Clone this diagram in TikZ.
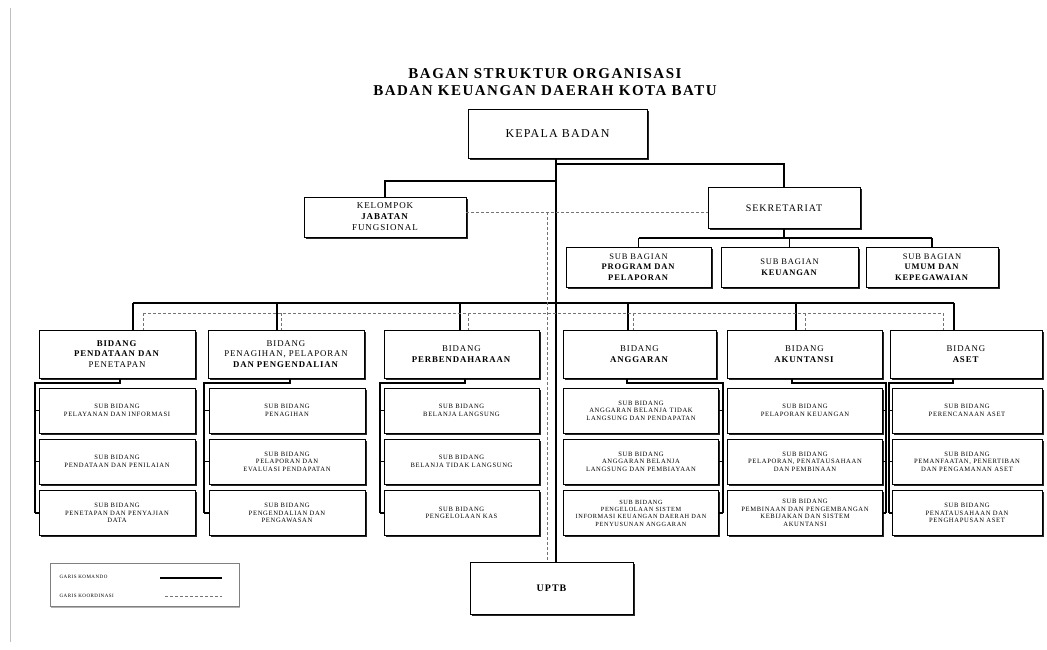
\documentclass[tikz,border=0pt]{standalone}
\usepackage{fontspec}
\setmainfont[LetterSpace=10]{Liberation Serif}
\usepackage{tikz}
\usetikzlibrary{shadows}

\begin{document}
\begin{tikzpicture}[x=1pt,y=-1pt,
  box/.style={draw,fill=white,line width=0.9pt,align=center,inner sep=1pt,
    drop shadow={shadow xshift=1.7pt,shadow yshift=-1.7pt,fill=black!85,opacity=1}},
  komando/.style={line width=1.2pt},
  koordinasi/.style={line width=0.8pt,black!55,dash pattern=on 3pt off 2pt},
  bidang/.style={box,minimum height=48,font=\fontsize{8.8}{10.5}\selectfont},
  subbid/.style={box,minimum height=45,font=\fontsize{6.6}{7.6}\selectfont}]
\useasboundingbox (0,0) rectangle (1047,650);
\draw[black!25,line width=1pt] (10,8) -- (10,642);

\node[font=\bfseries\fontsize{15}{16.5}\selectfont,align=center] (judul) at (545,82)
  {BAGAN STRUKTUR ORGANISASI\\BADAN KEUANGAN DAERAH KOTA BATU};

% pimpinan
\node[box,minimum width=179,minimum height=49,font=\fontsize{12}{14}\selectfont] (kepala) at (557.5,134) {KEPALA BADAN};
\node[box,minimum width=162,minimum height=40,font=\fontsize{9}{11}\selectfont] (kelompok) at (385,217)
  {KELOMPOK\\\textbf{JABATAN}\\FUNGSIONAL};
\node[box,minimum width=152,minimum height=41,font=\fontsize{10}{12}\selectfont] (sekretariat) at (784,208) {SEKRETARIAT};
\node[box,minimum width=145,minimum height=40,font=\fontsize{8.5}{10.5}\selectfont] (subbag1) at (638.5,267)
  {SUB BAGIAN\\\textbf{PROGRAM DAN}\\\textbf{PELAPORAN}};
\node[box,minimum width=137,minimum height=40,font=\fontsize{8.5}{10.5}\selectfont] (subbag2) at (789.5,267)
  {SUB BAGIAN\\\textbf{KEUANGAN}};
\node[box,minimum width=132,minimum height=40,font=\fontsize{8.5}{10.5}\selectfont] (subbag3) at (932,267)
  {SUB BAGIAN\\\textbf{UMUM DAN}\\\textbf{KEPEGAWAIAN}};
\node[box,minimum width=163,minimum height=52,font=\bfseries\fontsize{10}{12}\selectfont] (uptb) at (551.5,588) {UPTB};

% bidang
\node[bidang,minimum width=156] (b1) at (117,354) {\textbf{BIDANG}\\\textbf{PENDATAAN DAN}\\PENETAPAN};
\node[bidang,minimum width=156] (b2) at (286,354) {BIDANG\\PENAGIHAN, PELAPORAN\\\textbf{DAN PENGENDALIAN}};
\node[bidang,minimum width=155] (b3) at (461.5,354) {BIDANG\\\textbf{PERBENDAHARAAN}};
\node[bidang,minimum width=153] (b4) at (639.5,354) {BIDANG\\\textbf{ANGGARAN}};
\node[bidang,minimum width=155] (b5) at (804.5,354) {BIDANG\\\textbf{AKUNTANSI}};
\node[bidang,minimum width=152] (b6) at (966,354) {BIDANG\\\textbf{ASET}};

% sub bidang
\node[subbid,minimum width=156] (s11) at (117,410.5) {SUB BIDANG\\PELAYANAN DAN INFORMASI};
\node[subbid,minimum width=156] (s12) at (117,461.5) {SUB BIDANG\\PENDATAAN DAN PENILAIAN};
\node[subbid,minimum width=156] (s13) at (117,513) {SUB BIDANG\\PENETAPAN DAN PENYAJIAN\\DATA};
\node[subbid,minimum width=156] (s21) at (287,410.5) {SUB BIDANG\\PENAGIHAN};
\node[subbid,minimum width=156] (s22) at (287,461.5) {SUB BIDANG\\PELAPORAN DAN\\EVALUASI PENDAPATAN};
\node[subbid,minimum width=156] (s23) at (287,513) {SUB BIDANG\\PENGENDALIAN DAN\\PENGAWASAN};
\node[subbid,minimum width=155] (s31) at (461.5,410.5) {SUB BIDANG\\BELANJA LANGSUNG};
\node[subbid,minimum width=155] (s32) at (461.5,461.5) {SUB BIDANG\\BELANJA TIDAK LANGSUNG};
\node[subbid,minimum width=155] (s33) at (461.5,513) {SUB BIDANG\\PENGELOLAAN KAS};
\node[subbid,minimum width=155] (s41) at (641,410.5) {SUB BIDANG\\ANGGARAN BELANJA TIDAK\\LANGSUNG DAN PENDAPATAN};
\node[subbid,minimum width=155] (s42) at (641,461.5) {SUB BIDANG\\ANGGARAN BELANJA\\LANGSUNG DAN PEMBIAYAAN};
\node[subbid,minimum width=155,font=\fontsize{6.3}{7.3}\selectfont] (s43) at (641,513) {SUB BIDANG\\PENGELOLAAN SISTEM\\INFORMASI KEUANGAN DAERAH DAN\\PENYUSUNAN ANGGARAN};
\node[subbid,minimum width=155] (s51) at (805,410.5) {SUB BIDANG\\PELAPORAN KEUANGAN};
\node[subbid,minimum width=155] (s52) at (805,461.5) {SUB BIDANG\\PELAPORAN, PENATAUSAHAAN\\DAN PEMBINAAN};
\node[subbid,minimum width=155] (s53) at (805,513) {SUB BIDANG\\PEMBINAAN DAN PENGEMBANGAN\\KEBIJAKAN DAN SISTEM\\AKUNTANSI};
\node[subbid,minimum width=150] (s61) at (967,410.5) {SUB BIDANG\\PERENCANAAN ASET};
\node[subbid,minimum width=150] (s62) at (967,461.5) {SUB BIDANG\\PEMANFAATAN, PENERTIBAN\\DAN PENGAMANAN ASET};
\node[subbid,minimum width=150] (s63) at (967,513) {SUB BIDANG\\PENATAUSAHAAN DAN\\PENGHAPUSAN ASET};

% garis komando
\coordinate (jkel) at (556,181);
\coordinate (jsek) at (556,164);
\coordinate (ysb) at (0,238);
\draw[komando] (kepala.south -| jsek) -- (jsek |- uptb.north);
\draw[komando] (jsek) -| (sekretariat.north);
\draw[komando] (jkel) -| (kelompok.north);
\draw[komando] (sekretariat.south) -- (sekretariat.south |- ysb);
\draw[komando] (subbag1.north |- ysb) -- (subbag3.north |- ysb);
\foreach \i in {1,2,3}
  \draw[komando] (subbag\i.north |- ysb) -- (subbag\i.north);
\foreach \i/\x in {1/133,2/277,3/460,4/628,5/796,6/954}
  \coordinate (t\i) at (\x,303);
\draw[komando] (t1) -- (t6);
\foreach \i in {1,...,6}
  \draw[komando] (t\i) -- (t\i |- b\i.north);
\foreach \c/\tx/\bx/\sd in {1/120/35/west,2/290/204/west,3/465/380/west,4/627/723/east,5/792/886/east,6/953/889/west}{
  \coordinate (h\c) at (\tx,383);
  \coordinate (bus\c) at (\bx,383);
  \draw[komando] (h\c |- b\c.south) -- (h\c) -- (bus\c) -- (bus\c |- s\c3.\sd);
  \foreach \r in {1,2,3}
    \draw[komando] (bus\c |- s\c\r.\sd) -- (s\c\r.\sd);
}

% garis koordinasi
\coordinate (kd) at (547,212);
\draw[koordinasi] (kelompok.east |- kd) -- (sekretariat.west |- kd);
\draw[koordinasi] (kd) -- (kd |- uptb.north);
\foreach \i/\x in {1/143,2/281,3/468,4/633,5/805,6/943}
  \coordinate (d\i) at (\x,313);
\draw[koordinasi] (d1) -- (d6);
\foreach \i in {1,...,6}
  \draw[koordinasi] (d\i) -- (d\i |- b\i.north);

% keterangan
\node[draw=black!50,fill=white,line width=0.8pt,minimum width=189,minimum height=43,
  drop shadow={shadow xshift=1pt,shadow yshift=-1pt,fill=black!30,opacity=1}] (legenda) at (144.5,585) {};
\node[anchor=west,font=\fontsize{5}{6}\selectfont] (lkomando) at (56,577) {GARIS KOMANDO};
\node[anchor=west,font=\fontsize{5}{6}\selectfont] (lkoordinasi) at (56,596) {GARIS KOORDINASI};
\coordinate (ka) at (160,578);
\coordinate (kb) at (222,578);
\coordinate (kc) at (165,596);
\coordinate (kd2) at (222,596);
\draw[komando] (ka) -- (kb);
\draw[koordinasi] (kc) -- (kd2);
\end{tikzpicture}
\end{document}
